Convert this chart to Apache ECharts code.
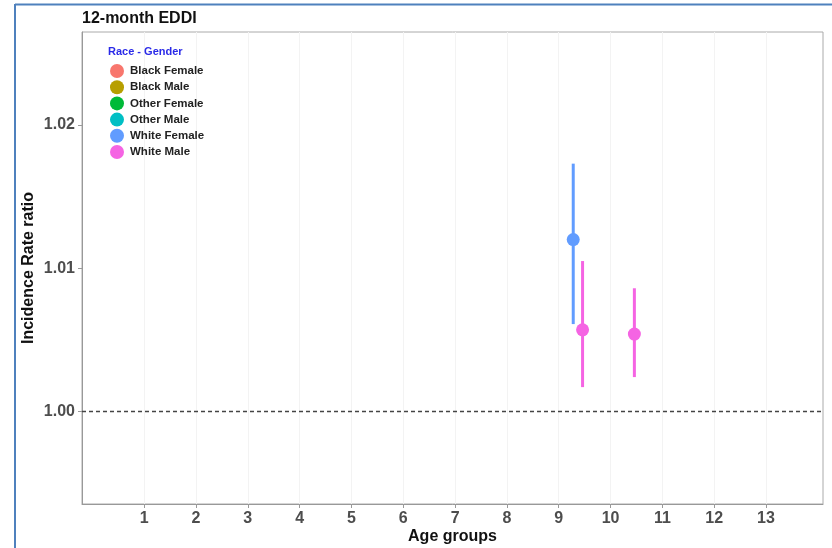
<!DOCTYPE html>
<html>
<head>
<meta charset="utf-8">
<script src="https://cdn.jsdelivr.net/npm/echarts@6/dist/echarts.min.js"></script>
<style>
  html, body { margin: 0; padding: 0; background: #fff; }
  #main { width: 832px; height: 548px; }
</style>
</head>
<body>
<div id="main"></div>
<script>
// legend entries (ggplot default hues)
const groupNames = ['Black Female', 'Black Male', 'Other Female', 'Other Male', 'White Female', 'White Male'];
const groupColors = ['#F8766D', '#B79F00', '#00BA38', '#00BFC4', '#619CFF', '#F564E3'];

// axis ticks
const ageTicks = [1, 2, 3, 4, 5, 6, 7, 8, 9, 10, 11, 12, 13];
const irrTicks = [1.00, 1.01, 1.02];

// estimates (dodged x position, IRR, lower CI, upper CI)
const whiteFemaleX = [9.28];
const whiteFemaleIRR = [1.0120];
const whiteFemaleLow = [1.0061];
const whiteFemaleHigh = [1.0173];

const whiteMaleX = [9.46, 10.46];
const whiteMaleIRR = [1.0057, 1.0054];
const whiteMaleLow = [1.0017, 1.0024];
const whiteMaleHigh = [1.0105, 1.0086];

const groupData = {
  'White Female': whiteFemaleX.map((x, i) => [x, whiteFemaleIRR[i], whiteFemaleLow[i], whiteFemaleHigh[i]]),
  'White Male': whiteMaleX.map((x, i) => [x, whiteMaleIRR[i], whiteMaleLow[i], whiteMaleHigh[i]])
};

// point + error bar
function renderPoint(params, api) {
  const x = api.value(0);
  const c = api.coord([x, api.value(1)]);
  const lo = api.coord([x, api.value(2)]);
  const hi = api.coord([x, api.value(3)]);
  const color = api.visual('color');
  return {
    type: 'group',
    children: [
      { type: 'line', shape: { x1: hi[0], y1: hi[1], x2: lo[0], y2: lo[1] }, style: { stroke: color, lineWidth: 3 } },
      { type: 'circle', shape: { cx: c[0], cy: c[1], r: 6.5 }, style: { fill: color } }
    ]
  };
}

const series = groupNames.map((name, i) => {
  const s = {
    name: name,
    type: 'custom',
    renderItem: renderPoint,
    itemStyle: { color: groupColors[i] },
    encode: { x: 0, y: [1, 2, 3] },
    data: groupData[name] || []
  };
  if (name === 'White Male') {
    s.markLine = {
      silent: true,
      symbol: 'none',
      label: { show: false },
      lineStyle: { color: '#444', type: [4, 3], width: 1.3 },
      data: [{ yAxis: 1 }]
    };
  }
  return s;
});

const chart = echarts.init(document.getElementById('main'));
chart.setOption({
  animation: false,
  backgroundColor: '#fff',
  title: [
    { text: '12-month EDDI', left: 82, top: 11, padding: 0,
      textStyle: { fontFamily: 'Liberation Sans', fontSize: 16, fontWeight: 'bold', color: '#111' } },
    { text: 'Race - Gender', left: 108, top: 46, padding: 0,
      textStyle: { fontFamily: 'Liberation Sans', fontSize: 11, fontWeight: 'bold', color: '#2a2ae8' } }
  ],
  legend: {
    orient: 'vertical',
    left: 110, top: 64,
    padding: 0,
    icon: 'circle',
    itemWidth: 14, itemHeight: 14, itemGap: 2.2,
    selectedMode: false,
    data: groupNames,
    textStyle: { fontFamily: 'Liberation Sans', fontSize: 11.5, fontWeight: 'bold', color: '#222', padding: [0, 0, 0, 1] }
  },
  grid: {
    left: 82, top: 32, right: 9, bottom: 44,
    outerBoundsMode: 'none',
    show: true, borderColor: '#aaa', borderWidth: 1
  },
  xAxis: {
    type: 'value',
    min: -0.2, max: 14.1,
    name: 'Age groups',
    nameLocation: 'middle',
    nameGap: 25,
    nameMoveOverlap: false,
    nameTextStyle: { fontFamily: 'Liberation Sans', fontSize: 16, fontWeight: 'bold', color: '#111' },
    axisLine: { show: true, onZero: false, lineStyle: { color: '#999' } },
    axisTick: { show: true, length: 4, customValues: ageTicks, lineStyle: { color: '#999' } },
    axisLabel: { customValues: ageTicks, margin: 7, fontFamily: 'Liberation Sans', fontSize: 16, fontWeight: 'bold', color: '#4d4d4d' },
    splitLine: { show: true, lineStyle: { color: '#f3f3f3' } }
  },
  yAxis: {
    type: 'value',
    min: 0.99354, max: 1.02649,
    name: 'Incidence Rate ratio',
    nameLocation: 'middle',
    nameGap: 45,
    nameMoveOverlap: false,
    nameTextStyle: { fontFamily: 'Liberation Sans', fontSize: 16, fontWeight: 'bold', color: '#111' },
    axisLine: { show: true, onZero: false, lineStyle: { color: '#999' } },
    axisTick: { show: true, length: 4, customValues: irrTicks, lineStyle: { color: '#999' } },
    axisLabel: { customValues: irrTicks, margin: 7, fontFamily: 'Liberation Sans', fontSize: 16, fontWeight: 'bold', color: '#4d4d4d',
      formatter: v => v.toFixed(2) },
    splitLine: { show: false }
  },
  graphic: [
    { type: 'line', shape: { x1: 15, y1: 4.5, x2: 832, y2: 4.5 }, style: { stroke: '#4f81bd', lineWidth: 2 } },
    { type: 'line', shape: { x1: 15, y1: 4, x2: 15, y2: 548 }, style: { stroke: '#4f81bd', lineWidth: 2 } }
  ],
  series: series
});
</script>
</body>
</html>
